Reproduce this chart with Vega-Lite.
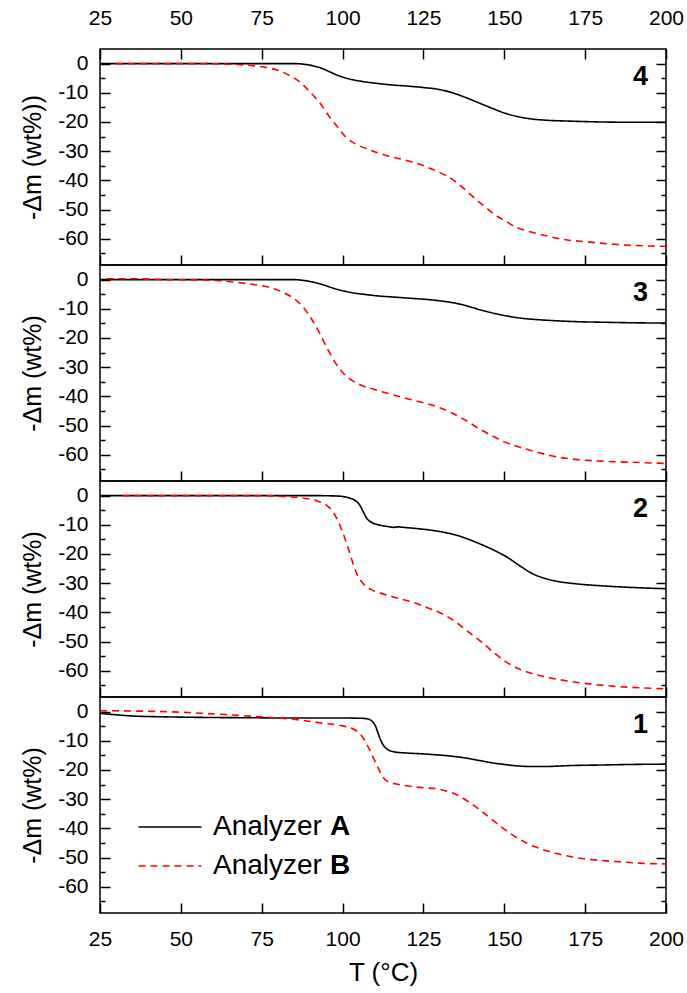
{
  "$schema": "https://vega.github.io/schema/vega-lite/v6.json",
  "padding": {"left": 19, "top": 6, "right": 0, "bottom": 0},
  "background": "white",
  "config": {
    "view": {"stroke": "black", "strokeWidth": 1.5},
    "axis": {"grid": false, "domain": false, "tickColor": "black", "tickWidth": 1.5, "labelColor": "black", "labelFont": "Liberation Sans", "labelFontSize": 21, "titleFont": "Liberation Sans", "titleFontSize": 25, "titleFontWeight": "normal", "titleColor": "black", "labelFlush": false, "labelOverlap": false, "labelExpr": "datum.value < 0 ? '-' + abs(datum.value) : '' + datum.value"},
    "text": {"font": "Liberation Sans"}
  },
  "data": {"values": [
    {"p":4,"a":"A","T":25,"m":0},{"p":4,"a":"A","T":40,"m":0},{"p":4,"a":"A","T":60,"m":0},{"p":4,"a":"A","T":75,"m":0},{"p":4,"a":"A","T":85,"m":0},{"p":4,"a":"A","T":88,"m":-0.2},{"p":4,"a":"A","T":91,"m":-0.8},{"p":4,"a":"A","T":94,"m":-1.8},{"p":4,"a":"A","T":96,"m":-2.8},{"p":4,"a":"A","T":98,"m":-3.8},{"p":4,"a":"A","T":100,"m":-4.6},{"p":4,"a":"A","T":103,"m":-5.5},{"p":4,"a":"A","T":106,"m":-6.1},{"p":4,"a":"A","T":110,"m":-6.7},{"p":4,"a":"A","T":115,"m":-7.3},{"p":4,"a":"A","T":120,"m":-7.7},{"p":4,"a":"A","T":125,"m":-8.2},{"p":4,"a":"A","T":130,"m":-8.9},{"p":4,"a":"A","T":134,"m":-10},{"p":4,"a":"A","T":138,"m":-11.6},{"p":4,"a":"A","T":142,"m":-13.4},{"p":4,"a":"A","T":146,"m":-15.2},{"p":4,"a":"A","T":150,"m":-16.9},{"p":4,"a":"A","T":154,"m":-18.1},{"p":4,"a":"A","T":158,"m":-18.9},{"p":4,"a":"A","T":163,"m":-19.4},{"p":4,"a":"A","T":170,"m":-19.7},{"p":4,"a":"A","T":180,"m":-20},{"p":4,"a":"A","T":190,"m":-20.1},{"p":4,"a":"A","T":200,"m":-20.1},
    {"p":4,"a":"B","T":30,"m":0},{"p":4,"a":"B","T":45,"m":0},{"p":4,"a":"B","T":55,"m":0},{"p":4,"a":"B","T":65,"m":-0.2},{"p":4,"a":"B","T":70,"m":-0.5},{"p":4,"a":"B","T":75,"m":-1.1},{"p":4,"a":"B","T":80,"m":-2.3},{"p":4,"a":"B","T":84,"m":-4.3},{"p":4,"a":"B","T":87,"m":-6.5},{"p":4,"a":"B","T":90,"m":-9.8},{"p":4,"a":"B","T":93,"m":-13.5},{"p":4,"a":"B","T":96,"m":-18.3},{"p":4,"a":"B","T":98.5,"m":-21.8},{"p":4,"a":"B","T":101,"m":-25.2},{"p":4,"a":"B","T":104,"m":-27.5},{"p":4,"a":"B","T":108,"m":-29.4},{"p":4,"a":"B","T":113,"m":-31.3},{"p":4,"a":"B","T":118,"m":-32.7},{"p":4,"a":"B","T":123,"m":-34.2},{"p":4,"a":"B","T":128,"m":-36.3},{"p":4,"a":"B","T":132,"m":-38.4},{"p":4,"a":"B","T":135,"m":-40.5},{"p":4,"a":"B","T":138,"m":-43.3},{"p":4,"a":"B","T":141,"m":-46.3},{"p":4,"a":"B","T":144,"m":-49},{"p":4,"a":"B","T":147,"m":-51.7},{"p":4,"a":"B","T":150,"m":-53.7},{"p":4,"a":"B","T":154,"m":-56.2},{"p":4,"a":"B","T":158,"m":-57.6},{"p":4,"a":"B","T":163,"m":-59},{"p":4,"a":"B","T":168,"m":-60.2},{"p":4,"a":"B","T":175,"m":-61},{"p":4,"a":"B","T":185,"m":-62},{"p":4,"a":"B","T":195,"m":-62.5},{"p":4,"a":"B","T":200,"m":-62.6},
    {"p":3,"a":"A","T":25,"m":0},{"p":3,"a":"A","T":50,"m":0},{"p":3,"a":"A","T":75,"m":0},{"p":3,"a":"A","T":85,"m":0},{"p":3,"a":"A","T":88,"m":-0.3},{"p":3,"a":"A","T":91,"m":-0.9},{"p":3,"a":"A","T":94,"m":-1.8},{"p":3,"a":"A","T":97,"m":-2.9},{"p":3,"a":"A","T":100,"m":-3.8},{"p":3,"a":"A","T":103,"m":-4.5},{"p":3,"a":"A","T":107,"m":-5.1},{"p":3,"a":"A","T":111,"m":-5.6},{"p":3,"a":"A","T":116,"m":-6},{"p":3,"a":"A","T":121,"m":-6.4},{"p":3,"a":"A","T":126,"m":-6.8},{"p":3,"a":"A","T":131,"m":-7.4},{"p":3,"a":"A","T":135,"m":-8.1},{"p":3,"a":"A","T":139,"m":-9.2},{"p":3,"a":"A","T":143,"m":-10.5},{"p":3,"a":"A","T":147,"m":-11.6},{"p":3,"a":"A","T":151,"m":-12.5},{"p":3,"a":"A","T":155,"m":-13.2},{"p":3,"a":"A","T":160,"m":-13.7},{"p":3,"a":"A","T":166,"m":-14.1},{"p":3,"a":"A","T":172,"m":-14.4},{"p":3,"a":"A","T":180,"m":-14.6},{"p":3,"a":"A","T":190,"m":-14.8},{"p":3,"a":"A","T":200,"m":-14.9},
    {"p":3,"a":"B","T":27,"m":0.3},{"p":3,"a":"B","T":35,"m":0.3},{"p":3,"a":"B","T":45,"m":0},{"p":3,"a":"B","T":55,"m":-0.1},{"p":3,"a":"B","T":62,"m":-0.4},{"p":3,"a":"B","T":67,"m":-0.9},{"p":3,"a":"B","T":72,"m":-1.6},{"p":3,"a":"B","T":76,"m":-2.3},{"p":3,"a":"B","T":79,"m":-3.2},{"p":3,"a":"B","T":82,"m":-4.6},{"p":3,"a":"B","T":85,"m":-6.5},{"p":3,"a":"B","T":87.5,"m":-9},{"p":3,"a":"B","T":90,"m":-12.8},{"p":3,"a":"B","T":92.5,"m":-17.5},{"p":3,"a":"B","T":95,"m":-23},{"p":3,"a":"B","T":97.5,"m":-28},{"p":3,"a":"B","T":100,"m":-31.8},{"p":3,"a":"B","T":103,"m":-34.6},{"p":3,"a":"B","T":106,"m":-36.3},{"p":3,"a":"B","T":110,"m":-37.7},{"p":3,"a":"B","T":115,"m":-39.3},{"p":3,"a":"B","T":120,"m":-40.8},{"p":3,"a":"B","T":125,"m":-42.2},{"p":3,"a":"B","T":130,"m":-43.9},{"p":3,"a":"B","T":134,"m":-45.8},{"p":3,"a":"B","T":138,"m":-48.2},{"p":3,"a":"B","T":142,"m":-50.9},{"p":3,"a":"B","T":146,"m":-53.4},{"p":3,"a":"B","T":150,"m":-55.6},{"p":3,"a":"B","T":155,"m":-57.5},{"p":3,"a":"B","T":160,"m":-59.1},{"p":3,"a":"B","T":166,"m":-60.7},{"p":3,"a":"B","T":172,"m":-61.6},{"p":3,"a":"B","T":180,"m":-62.2},{"p":3,"a":"B","T":190,"m":-62.6},{"p":3,"a":"B","T":200,"m":-63},
    {"p":2,"a":"A","T":25,"m":0},{"p":2,"a":"A","T":50,"m":0},{"p":2,"a":"A","T":75,"m":0},{"p":2,"a":"A","T":90,"m":0},{"p":2,"a":"A","T":97,"m":-0.1},{"p":2,"a":"A","T":100,"m":-0.3},{"p":2,"a":"A","T":102,"m":-0.8},{"p":2,"a":"A","T":103.5,"m":-1.4},{"p":2,"a":"A","T":104.5,"m":-2.2},{"p":2,"a":"A","T":105.5,"m":-3.6},{"p":2,"a":"A","T":106.5,"m":-5.8},{"p":2,"a":"A","T":107.5,"m":-7.8},{"p":2,"a":"A","T":109,"m":-9.2},{"p":2,"a":"A","T":111,"m":-10},{"p":2,"a":"A","T":114,"m":-10.6},{"p":2,"a":"A","T":116,"m":-10.9},{"p":2,"a":"A","T":117,"m":-10.7},{"p":2,"a":"A","T":119,"m":-10.9},{"p":2,"a":"A","T":123,"m":-11.3},{"p":2,"a":"A","T":127,"m":-11.8},{"p":2,"a":"A","T":131,"m":-12.5},{"p":2,"a":"A","T":135,"m":-13.5},{"p":2,"a":"A","T":139,"m":-15},{"p":2,"a":"A","T":143,"m":-16.8},{"p":2,"a":"A","T":147,"m":-18.8},{"p":2,"a":"A","T":151,"m":-21.2},{"p":2,"a":"A","T":155,"m":-24.2},{"p":2,"a":"A","T":159,"m":-26.9},{"p":2,"a":"A","T":163,"m":-28.5},{"p":2,"a":"A","T":167,"m":-29.5},{"p":2,"a":"A","T":172,"m":-30.2},{"p":2,"a":"A","T":180,"m":-30.9},{"p":2,"a":"A","T":190,"m":-31.5},{"p":2,"a":"A","T":200,"m":-31.9},
    {"p":2,"a":"B","T":32,"m":0},{"p":2,"a":"B","T":50,"m":0},{"p":2,"a":"B","T":70,"m":0},{"p":2,"a":"B","T":78,"m":-0.1},{"p":2,"a":"B","T":84,"m":-0.5},{"p":2,"a":"B","T":88,"m":-0.9},{"p":2,"a":"B","T":92,"m":-1.8},{"p":2,"a":"B","T":95,"m":-3.3},{"p":2,"a":"B","T":97,"m":-5.5},{"p":2,"a":"B","T":98.5,"m":-8.5},{"p":2,"a":"B","T":100,"m":-12.5},{"p":2,"a":"B","T":101.5,"m":-17.2},{"p":2,"a":"B","T":103,"m":-22.5},{"p":2,"a":"B","T":104.5,"m":-27},{"p":2,"a":"B","T":106.5,"m":-30.3},{"p":2,"a":"B","T":109,"m":-32.3},{"p":2,"a":"B","T":112,"m":-33.5},{"p":2,"a":"B","T":116,"m":-34.8},{"p":2,"a":"B","T":121,"m":-36.3},{"p":2,"a":"B","T":126,"m":-38.3},{"p":2,"a":"B","T":131,"m":-40.6},{"p":2,"a":"B","T":135,"m":-43.3},{"p":2,"a":"B","T":139,"m":-46.8},{"p":2,"a":"B","T":143,"m":-50.2},{"p":2,"a":"B","T":147,"m":-54},{"p":2,"a":"B","T":151,"m":-57.3},{"p":2,"a":"B","T":155,"m":-59.6},{"p":2,"a":"B","T":159,"m":-61.1},{"p":2,"a":"B","T":164,"m":-62.4},{"p":2,"a":"B","T":170,"m":-63.6},{"p":2,"a":"B","T":177,"m":-64.6},{"p":2,"a":"B","T":185,"m":-65.4},{"p":2,"a":"B","T":193,"m":-65.9},{"p":2,"a":"B","T":200,"m":-66.2},
    {"p":1,"a":"A","T":25,"m":-0.6},{"p":1,"a":"A","T":30,"m":-1.1},{"p":1,"a":"A","T":35,"m":-1.5},{"p":1,"a":"A","T":45,"m":-1.8},{"p":1,"a":"A","T":57,"m":-2},{"p":1,"a":"A","T":70,"m":-2.1},{"p":1,"a":"A","T":85,"m":-2.2},{"p":1,"a":"A","T":100,"m":-2.2},{"p":1,"a":"A","T":106,"m":-2.3},{"p":1,"a":"A","T":108,"m":-2.6},{"p":1,"a":"A","T":109.3,"m":-3.5},{"p":1,"a":"A","T":110.2,"m":-5},{"p":1,"a":"A","T":111,"m":-7.5},{"p":1,"a":"A","T":111.8,"m":-9.8},{"p":1,"a":"A","T":112.8,"m":-11.8},{"p":1,"a":"A","T":114,"m":-13},{"p":1,"a":"A","T":116,"m":-13.8},{"p":1,"a":"A","T":120,"m":-14.2},{"p":1,"a":"A","T":125,"m":-14.5},{"p":1,"a":"A","T":130,"m":-14.9},{"p":1,"a":"A","T":134,"m":-15.3},{"p":1,"a":"A","T":138,"m":-15.9},{"p":1,"a":"A","T":142,"m":-16.7},{"p":1,"a":"A","T":146,"m":-17.5},{"p":1,"a":"A","T":150,"m":-18.1},{"p":1,"a":"A","T":154,"m":-18.6},{"p":1,"a":"A","T":158,"m":-18.8},{"p":1,"a":"A","T":163,"m":-18.8},{"p":1,"a":"A","T":170,"m":-18.5},{"p":1,"a":"A","T":180,"m":-18.3},{"p":1,"a":"A","T":190,"m":-18.1},{"p":1,"a":"A","T":200,"m":-18},
    {"p":1,"a":"B","T":25,"m":0.3},{"p":1,"a":"B","T":35,"m":0.2},{"p":1,"a":"B","T":45,"m":0},{"p":1,"a":"B","T":57,"m":-0.6},{"p":1,"a":"B","T":68,"m":-1.3},{"p":1,"a":"B","T":80,"m":-2.2},{"p":1,"a":"B","T":87,"m":-2.9},{"p":1,"a":"B","T":94,"m":-4},{"p":1,"a":"B","T":100,"m":-4.9},{"p":1,"a":"B","T":103,"m":-5.8},{"p":1,"a":"B","T":105,"m":-7.2},{"p":1,"a":"B","T":106.5,"m":-9.2},{"p":1,"a":"B","T":108,"m":-12.3},{"p":1,"a":"B","T":109.5,"m":-15.8},{"p":1,"a":"B","T":111,"m":-19.3},{"p":1,"a":"B","T":112.5,"m":-22.5},{"p":1,"a":"B","T":114,"m":-24},{"p":1,"a":"B","T":117,"m":-24.9},{"p":1,"a":"B","T":121,"m":-25.6},{"p":1,"a":"B","T":125,"m":-26.1},{"p":1,"a":"B","T":129,"m":-26.4},{"p":1,"a":"B","T":132,"m":-27.2},{"p":1,"a":"B","T":135,"m":-28.3},{"p":1,"a":"B","T":138,"m":-30.2},{"p":1,"a":"B","T":141,"m":-32.5},{"p":1,"a":"B","T":144,"m":-35},{"p":1,"a":"B","T":147,"m":-37.7},{"p":1,"a":"B","T":150,"m":-40.3},{"p":1,"a":"B","T":153,"m":-42.6},{"p":1,"a":"B","T":156,"m":-44.5},{"p":1,"a":"B","T":160,"m":-46.5},{"p":1,"a":"B","T":165,"m":-48.3},{"p":1,"a":"B","T":171,"m":-49.8},{"p":1,"a":"B","T":178,"m":-50.8},{"p":1,"a":"B","T":186,"m":-51.5},{"p":1,"a":"B","T":193,"m":-52},{"p":1,"a":"B","T":200,"m":-52.2}
  ]},
  "spacing": 0,
  "bounds": "flush",
  "resolve": {"legend": {"color": "independent", "strokeDash": "independent", "opacity": "independent"}},
  "vconcat": [
    {
      "width": 566, "height": 216,
      "resolve": {"axis": {"x": "independent", "y": "independent"}},
      "layer": [
        {
          "transform": [{"filter": "datum.p == 4"}],
          "mark": {"type": "line", "strokeWidth": 1.6, "interpolate": "monotone"},
          "encoding": {
            "x": {"field": "T", "type": "quantitative", "scale": {"domain": [25, 200], "nice": false, "zero": false}, "axis": {"orient": "bottom", "values": [25,50,75,100,125,150,175,200], "tickSize": -10, "labels": false, "title": null}},
            "y": {"field": "m", "type": "quantitative", "scale": {"domain": [-69, 5], "nice": false, "zero": false}, "axis": {"orient": "left", "values": [-60,-50,-40,-30,-20,-10,0], "tickSize": -10, "labelPadding": 22, "title": "-Δm (wt%))", "titlePadding": 12}},
            "color": {"field": "a", "type": "nominal", "scale": {"domain": ["A","B"], "range": ["#000000","#ff0000"]}, "legend": null},
            "strokeDash": {"field": "a", "type": "nominal", "scale": {"domain": ["A","B"], "range": [[1,0],[7,5]]}, "legend": null}
          }
        },
        {
          "data": {"values": [{"n": "4"}]},
          "mark": {"type": "text", "align": "right", "baseline": "top", "dx": -18, "dy": 15, "fontSize": 27, "fontWeight": "bold", "color": "black"},
          "encoding": {
            "x": {"datum": 200, "type": "quantitative", "axis": {"orient": "top", "values": [25,50,75,100,125,150,175,200], "tickSize": -10, "labelPadding": 31, "title": null}},
            "y": {"datum": 5, "type": "quantitative", "axis": {"orient": "right", "values": [-60,-50,-40,-30,-20,-10,0], "tickSize": -10, "labels": false, "title": null}},
            "text": {"field": "n"}
          }
        },
        {
          "data": {"values": [{"n": ""}]},
          "mark": {"type": "text"},
          "encoding": {
            "x": {"datum": 200, "type": "quantitative", "axis": null},
            "y": {"datum": 5, "type": "quantitative", "axis": {"orient": "left", "values": [-65,-55,-45,-35,-25,-15,-5], "tickSize": -5, "labels": false, "title": null}},
            "text": {"field": "n"}
          }
        },
        {
          "data": {"values": [{"n": ""}]},
          "mark": {"type": "text"},
          "encoding": {
            "x": {"datum": 200, "type": "quantitative", "axis": null},
            "y": {"datum": 5, "type": "quantitative", "axis": {"orient": "right", "values": [-65,-55,-45,-35,-25,-15,-5], "tickSize": -5, "labels": false, "title": null}},
            "text": {"field": "n"}
          }
        }
      ]
    },
    {
      "width": 566, "height": 216,
      "resolve": {"axis": {"x": "independent", "y": "independent"}},
      "layer": [
        {
          "transform": [{"filter": "datum.p == 3"}],
          "mark": {"type": "line", "strokeWidth": 1.6, "interpolate": "monotone"},
          "encoding": {
            "x": {"field": "T", "type": "quantitative", "scale": {"domain": [25, 200], "nice": false, "zero": false}, "axis": {"orient": "bottom", "values": [25,50,75,100,125,150,175,200], "tickSize": -10, "labels": false, "title": null}},
            "y": {"field": "m", "type": "quantitative", "scale": {"domain": [-69, 5], "nice": false, "zero": false}, "axis": {"orient": "left", "values": [-60,-50,-40,-30,-20,-10,0], "tickSize": -10, "labelPadding": 22, "title": "-Δm (wt%)", "titlePadding": 12}},
            "color": {"field": "a", "type": "nominal", "scale": {"domain": ["A","B"], "range": ["#000000","#ff0000"]}, "legend": null},
            "strokeDash": {"field": "a", "type": "nominal", "scale": {"domain": ["A","B"], "range": [[1,0],[7,5]]}, "legend": null}
          }
        },
        {
          "data": {"values": [{"n": "3"}]},
          "mark": {"type": "text", "align": "right", "baseline": "top", "dx": -18, "dy": 15, "fontSize": 27, "fontWeight": "bold", "color": "black"},
          "encoding": {
            "x": {"datum": 200, "type": "quantitative", "axis": null},
            "y": {"datum": 5, "type": "quantitative", "axis": {"orient": "right", "values": [-60,-50,-40,-30,-20,-10,0], "tickSize": -10, "labels": false, "title": null}},
            "text": {"field": "n"}
          }
        },
        {
          "data": {"values": [{"n": ""}]},
          "mark": {"type": "text"},
          "encoding": {
            "x": {"datum": 200, "type": "quantitative", "axis": null},
            "y": {"datum": 5, "type": "quantitative", "axis": {"orient": "left", "values": [-65,-55,-45,-35,-25,-15,-5], "tickSize": -5, "labels": false, "title": null}},
            "text": {"field": "n"}
          }
        },
        {
          "data": {"values": [{"n": ""}]},
          "mark": {"type": "text"},
          "encoding": {
            "x": {"datum": 200, "type": "quantitative", "axis": null},
            "y": {"datum": 5, "type": "quantitative", "axis": {"orient": "right", "values": [-65,-55,-45,-35,-25,-15,-5], "tickSize": -5, "labels": false, "title": null}},
            "text": {"field": "n"}
          }
        }
      ]
    },
    {
      "width": 566, "height": 216,
      "resolve": {"axis": {"x": "independent", "y": "independent"}},
      "layer": [
        {
          "transform": [{"filter": "datum.p == 2"}],
          "mark": {"type": "line", "strokeWidth": 1.6, "interpolate": "monotone"},
          "encoding": {
            "x": {"field": "T", "type": "quantitative", "scale": {"domain": [25, 200], "nice": false, "zero": false}, "axis": {"orient": "bottom", "values": [25,50,75,100,125,150,175,200], "tickSize": -10, "labels": false, "title": null}},
            "y": {"field": "m", "type": "quantitative", "scale": {"domain": [-69, 5], "nice": false, "zero": false}, "axis": {"orient": "left", "values": [-60,-50,-40,-30,-20,-10,0], "tickSize": -10, "labelPadding": 22, "title": "-Δm (wt%)", "titlePadding": 12}},
            "color": {"field": "a", "type": "nominal", "scale": {"domain": ["A","B"], "range": ["#000000","#ff0000"]}, "legend": null},
            "strokeDash": {"field": "a", "type": "nominal", "scale": {"domain": ["A","B"], "range": [[1,0],[7,5]]}, "legend": null}
          }
        },
        {
          "data": {"values": [{"n": "2"}]},
          "mark": {"type": "text", "align": "right", "baseline": "top", "dx": -18, "dy": 15, "fontSize": 27, "fontWeight": "bold", "color": "black"},
          "encoding": {
            "x": {"datum": 200, "type": "quantitative", "axis": null},
            "y": {"datum": 5, "type": "quantitative", "axis": {"orient": "right", "values": [-60,-50,-40,-30,-20,-10,0], "tickSize": -10, "labels": false, "title": null}},
            "text": {"field": "n"}
          }
        },
        {
          "data": {"values": [{"n": ""}]},
          "mark": {"type": "text"},
          "encoding": {
            "x": {"datum": 200, "type": "quantitative", "axis": null},
            "y": {"datum": 5, "type": "quantitative", "axis": {"orient": "left", "values": [-65,-55,-45,-35,-25,-15,-5], "tickSize": -5, "labels": false, "title": null}},
            "text": {"field": "n"}
          }
        },
        {
          "data": {"values": [{"n": ""}]},
          "mark": {"type": "text"},
          "encoding": {
            "x": {"datum": 200, "type": "quantitative", "axis": null},
            "y": {"datum": 5, "type": "quantitative", "axis": {"orient": "right", "values": [-65,-55,-45,-35,-25,-15,-5], "tickSize": -5, "labels": false, "title": null}},
            "text": {"field": "n"}
          }
        }
      ]
    },
    {
      "width": 566, "height": 216,
      "resolve": {"axis": {"x": "independent", "y": "independent"}},
      "layer": [
        {
          "transform": [{"filter": "datum.p == 1"}],
          "mark": {"type": "line", "strokeWidth": 1.6, "interpolate": "monotone"},
          "encoding": {
            "x": {"field": "T", "type": "quantitative", "scale": {"domain": [25, 200], "nice": false, "zero": false}, "axis": {"orient": "bottom", "values": [25,50,75,100,125,150,175,200], "tickSize": -10, "labelPadding": 25, "title": "T (°C)", "titleFontSize": 26, "titlePadding": 10}},
            "y": {"field": "m", "type": "quantitative", "scale": {"domain": [-69, 5], "nice": false, "zero": false}, "axis": {"orient": "left", "values": [-60,-50,-40,-30,-20,-10,0], "tickSize": -10, "labelPadding": 22, "title": "-Δm (wt%)", "titlePadding": 12}},
            "color": {"field": "a", "type": "nominal", "scale": {"domain": ["A","B"], "range": ["#000000","#ff0000"]}, "legend": {"orient": "none", "legendX": 56, "legendY": 116, "title": null, "padding": 0, "labelExpr": "'Analyzer'", "symbolType": "M-3,0H3", "symbolSize": 441, "symbolStrokeWidth": 1.6, "labelFont": "Liberation Sans", "labelFontSize": 28, "labelColor": "black", "labelOffset": 29, "rowPadding": 11}},
            "strokeDash": {"field": "a", "type": "nominal", "scale": {"domain": ["A","B"], "range": [[1,0],[7,5]]}, "legend": {"orient": "none", "legendX": 56, "legendY": 116, "title": null, "padding": 0, "labelExpr": "'Analyzer'", "symbolType": "M-3,0H3", "symbolSize": 441, "symbolStrokeWidth": 1.6, "labelFont": "Liberation Sans", "labelFontSize": 28, "labelColor": "black", "labelOffset": 29, "rowPadding": 11}},
            "opacity": {"field": "a", "type": "nominal", "scale": {"domain": ["A","B","Z"], "range": [1,1,1]}, "legend": {"orient": "none", "legendX": 173, "legendY": 116, "title": null, "padding": 0, "labelExpr": "datum.label == 'Z' ? '' : datum.label", "symbolType": "M-3,0H3", "symbolSize": 441, "symbolStrokeWidth": 1.6, "symbolOpacity": 0, "symbolStrokeColor": "transparent", "symbolFillColor": "transparent", "labelFont": "Liberation Sans", "labelFontSize": 28, "labelFontWeight": "bold", "labelColor": "black", "labelOffset": 29, "rowPadding": 11}}
          }
        },
        {
          "data": {"values": [{"n": "1"}]},
          "mark": {"type": "text", "align": "right", "baseline": "top", "dx": -18, "dy": 15, "fontSize": 27, "fontWeight": "bold", "color": "black"},
          "encoding": {
            "x": {"datum": 200, "type": "quantitative", "axis": null},
            "y": {"datum": 5, "type": "quantitative", "axis": {"orient": "right", "values": [-60,-50,-40,-30,-20,-10,0], "tickSize": -10, "labels": false, "title": null}},
            "text": {"field": "n"}
          }
        },
        {
          "data": {"values": [{"n": ""}]},
          "mark": {"type": "text"},
          "encoding": {
            "x": {"datum": 200, "type": "quantitative", "axis": null},
            "y": {"datum": 5, "type": "quantitative", "axis": {"orient": "left", "values": [-65,-55,-45,-35,-25,-15,-5], "tickSize": -5, "labels": false, "title": null}},
            "text": {"field": "n"}
          }
        },
        {
          "data": {"values": [{"n": ""}]},
          "mark": {"type": "text"},
          "encoding": {
            "x": {"datum": 200, "type": "quantitative", "axis": null},
            "y": {"datum": 5, "type": "quantitative", "axis": {"orient": "right", "values": [-65,-55,-45,-35,-25,-15,-5], "tickSize": -5, "labels": false, "title": null}},
            "text": {"field": "n"}
          }
        }
      ]
    }
  ]
}
